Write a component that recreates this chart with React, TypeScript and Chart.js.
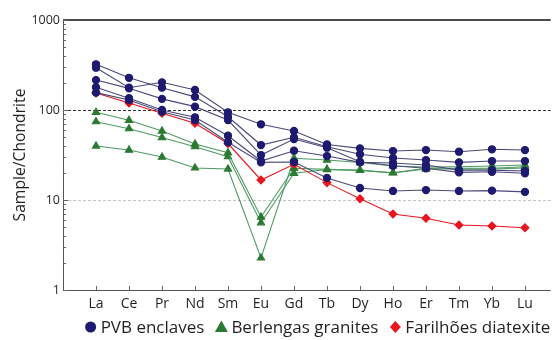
import React, { useEffect, useRef } from "react";
import { Chart, registerables } from "chart.js";

Chart.register(...registerables);

const elements = ["La", "Ce", "Pr", "Nd", "Sm", "Eu", "Gd", "Tb", "Dy", "Ho", "Er", "Tm", "Yb", "Lu"];
const yTickLabels = [1, 10, 100, 1000];
const legendNames = ["PVB enclaves", "Berlengas granites", "Farilhões diatexite"];

// PVB enclaves
const pvbA = [295, 177, 203, 167, 94.3, 69.4, 58.4, 41.4, 37.5, 35.0, 35.9, 34.4, 36.6, 35.9];
const pvbB = [322, 228, 177, 140, 84.2, 40.8, 49.7, 39.1, 32.2, 29.3, 27.8, 26.2, 27.1, 27.1];
const pvbC = [215, 174, 133, 109, 77.4, 31.6, 47.6, 38.1, 26.6, 24.0, 22.5, 20.3, 20.6, 19.8];
const pvbD = [179, 135, 100, 83, 51.8, 27.1, 35.3, 30.8, 26.2, 25.8, 24.5, 21.5, 21.5, 21.0];
const pvbE = [156, 129, 95.8, 77.4, 43.8, 26.2, 26.4, 17.6, 13.6, 12.6, 12.9, 12.6, 12.7, 12.3];

// Berlengas granites
const berA = [94.3, 76.8, 58.4, 41.9, 33.5, 6.47, 22.5, 21.9, 21.5, 20.1, 22.5, 22.5, 22.5, 23.4];
const berB = [74.1, 62.0, 49.5, 39.1, 30.3, 5.59, 19.8, 21.8, 21.3, 20.0, 22.1, 22.1, 22.1, 22.7];
const berC = [39.8, 35.9, 30.0, 22.7, 22.1, 2.27, 29.1, 27.8, 26.1, 23.9, 23.3, 23.4, 23.9, 24.5];

// Farilhões diatexite
const farilhoes = [154.5, 119.6, 91.9, 71.2, 42.4, 16.7, 24.9, 15.6, 10.3, 7.0, 6.26, 5.28, 5.14, 4.92];

const pvbSeries = [pvbA, pvbB, pvbC, pvbD, pvbE];
const berSeries = [berA, berB, berC];

const NAVY = "#1d1a6f";
const NAVY_LINE = "#4a4878";
const GREEN = "#2c7a32";
const GREEN_LINE = "#4d9a62";
const RED = "#e8161e";
const TEXT = "#231f20";
const FONT = "'Open Sans', sans-serif";

const toXY = (arr: number[]) => arr.map((v, i) => ({ x: i, y: v }));

const framePlugin = {
  id: "frame",
  beforeDatasetsDraw(chart: any) {
    const { ctx, chartArea } = chart;
    const { left, right } = chartArea;
    const ys = chart.scales.y;
    ctx.save();
    ctx.lineWidth = 1;
    ctx.setLineDash([3, 2]);
    ctx.strokeStyle = "#333";
    let p = Math.round(ys.getPixelForValue(100)) + 0.5;
    ctx.beginPath(); ctx.moveTo(left, p); ctx.lineTo(right, p); ctx.stroke();
    ctx.strokeStyle = "#c4c4c4";
    p = Math.round(ys.getPixelForValue(10)) + 0.5;
    ctx.beginPath(); ctx.moveTo(left, p); ctx.lineTo(right, p); ctx.stroke();
    ctx.restore();
  },
  afterDraw(chart: any) {
    const { ctx, chartArea } = chart;
    const { left, right, top, bottom } = chartArea;
    const ys = chart.scales.y;
    const xs = chart.scales.x;
    ctx.save();
    ctx.setLineDash([]);
    ctx.strokeStyle = "#111";
    ctx.lineWidth = 1.5;
    ctx.beginPath(); ctx.moveTo(left, top); ctx.lineTo(right, top); ctx.stroke();
    ctx.strokeStyle = "#555";
    ctx.lineWidth = 1;
    ctx.beginPath();
    ctx.moveTo(left + 0.5, top); ctx.lineTo(left + 0.5, bottom + 0.5); ctx.lineTo(right, bottom + 0.5);
    ctx.stroke();
    ctx.strokeStyle = "#666";
    for (const d of [1, 10, 100]) {
      for (let k = 1; k <= 10; k++) {
        const v = d * k;
        const py = Math.round(ys.getPixelForValue(v)) + 0.5;
        const len = k === 1 || k === 10 ? 5 : 3;
        ctx.beginPath(); ctx.moveTo(left, py); ctx.lineTo(left + len, py); ctx.stroke();
      }
    }
    elements.forEach((_, i) => {
      const px = Math.round(xs.getPixelForValue(i)) + 0.5;
      ctx.beginPath(); ctx.moveTo(px, bottom); ctx.lineTo(px, bottom - 4); ctx.stroke();
    });
    ctx.restore();

    // legend
    const colors = [NAVY, GREEN, RED];
    const shapes = ["circle", "triangle", "diamond"];
    const markerW = 12;
    const gapMarkerText = 4;
    const gapItems = 11;
    const cy = 327;
    ctx.save();
    ctx.font = `17px ${FONT}`;
    const widths = legendNames.map((t) => ctx.measureText(t).width);
    const total = widths.reduce((a, b) => a + b, 0) + 3 * (markerW + gapMarkerText) + 2 * gapItems;
    let x = (82 + 553) / 2 - total / 2;
    legendNames.forEach((name, i) => {
      const mx = x + markerW / 2;
      ctx.fillStyle = colors[i];
      ctx.beginPath();
      if (shapes[i] === "circle") {
        ctx.arc(mx, cy, 5.5, 0, Math.PI * 2);
      } else if (shapes[i] === "triangle") {
        ctx.moveTo(mx, cy - 6.5);
        ctx.lineTo(mx + 6.5, cy + 5);
        ctx.lineTo(mx - 6.5, cy + 5);
        ctx.closePath();
      } else {
        ctx.moveTo(mx, cy - 6);
        ctx.lineTo(mx + 5.5, cy);
        ctx.lineTo(mx, cy + 6);
        ctx.lineTo(mx - 5.5, cy);
        ctx.closePath();
      }
      ctx.fill();
      ctx.fillStyle = TEXT;
      ctx.textBaseline = "middle";
      ctx.textAlign = "left";
      ctx.fillText(name, x + markerW + gapMarkerText, cy + 1);
      x += markerW + gapMarkerText + widths[i] + gapItems;
    });
    ctx.restore();
  },
};

export default function App() {
  const ref = useRef<HTMLCanvasElement | null>(null);
  useEffect(() => {
    document.body.style.margin = "0";
    const canvas = ref.current;
    if (!canvas) return;
    const datasets: any[] = [];
    pvbSeries.forEach((s) => {
      datasets.push({
        label: legendNames[0],
        data: toXY(s),
        borderColor: NAVY_LINE,
        backgroundColor: NAVY,
        pointBorderColor: NAVY,
        pointBackgroundColor: NAVY,
        pointStyle: "circle",
        pointRadius: 3.6,
        borderWidth: 1.1,
        order: 1,
      });
    });
    berSeries.forEach((s) => {
      datasets.push({
        label: legendNames[1],
        data: toXY(s),
        borderColor: GREEN_LINE,
        backgroundColor: GREEN,
        pointBorderColor: GREEN,
        pointBackgroundColor: GREEN,
        pointStyle: "triangle",
        pointRadius: 4.2,
        borderWidth: 1.1,
        order: 3,
      });
    });
    datasets.push({
      label: legendNames[2],
      data: toXY(farilhoes),
      borderColor: RED,
      backgroundColor: RED,
      pointBorderColor: RED,
      pointBackgroundColor: RED,
      pointStyle: "rectRot",
      pointRadius: 4,
      borderWidth: 1.1,
      order: 2,
    });

    const chart = new Chart(canvas, {
      type: "line",
      data: { datasets },
      plugins: [framePlugin],
      options: {
        responsive: false,
        animation: false,
        layout: { padding: { top: 20, right: 0, left: 0, bottom: 23.5 } },
        font: { family: FONT },
        scales: {
          x: {
            type: "linear",
            min: -1,
            max: 13.78,
            grid: { display: false, drawTicks: false },
            border: { display: false },
            ticks: {
              stepSize: 1,
              autoSkip: false,
              includeBounds: false,
              maxRotation: 0,
              padding: 6,
              color: TEXT,
              font: { family: FONT, size: 14 },
              callback: (v: any) => (elements[v as number] ?? ""),
            },
            afterFit: (scale: any) => { scale.height = 26.5; },
          },
          y: {
            type: "logarithmic",
            min: 1,
            max: 1000,
            grid: { display: false, drawTicks: false },
            border: { display: false },
            ticks: {
              autoSkip: false,
              padding: 3,
              color: TEXT,
              font: { family: FONT, size: 12.5 },
              callback: (v: any) => (yTickLabels.includes(Number(v)) ? String(v) : ""),
            },
            title: {
              display: true,
              text: "Sample/Chondrite",
              color: TEXT,
              font: { family: FONT, size: 15.7 },
              padding: { top: 11, bottom: 0 },
            },
            afterFit: (scale: any) => { scale.width = 63; },
          },
        },
        plugins: {
          tooltip: { enabled: false },
          legend: { display: false },
        },
      } as any,
    });
    return () => chart.destroy();
  }, []);
  return (
    <div style={{ width: 556, height: 340, background: "#fff" }}>
      <canvas ref={ref} width={556} height={340} />
    </div>
  );
}
